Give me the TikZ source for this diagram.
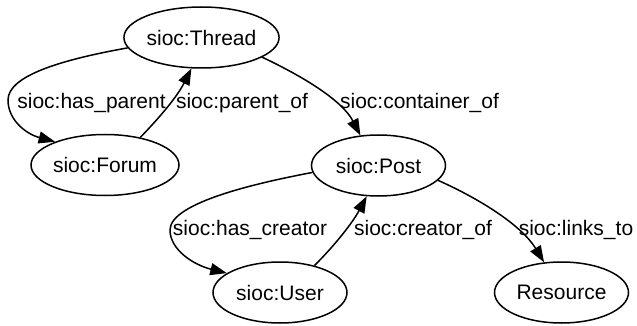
\documentclass[tikz,border=0pt]{standalone}
\usepackage{fontspec}
\setmainfont{Liberation Sans}
\usetikzlibrary{shapes.geometric,arrows.meta}

\tikzset{
  cls/.style={ellipse, draw, line width=1.5pt, inner sep=0pt,
              minimum height=61pt, font=\fontsize{21}{24}\selectfont},
  rel/.style={line width=1.5pt, -{Triangle[length=16.5pt,width=12pt]}},
  lbl/.style={anchor=base, inner sep=0pt, font=\fontsize{21}{24}\selectfont}
}

\begin{document}
\begin{tikzpicture}[x=1pt,y=-1pt]
  \useasboundingbox (0,0) rectangle (637,326);

  % classes
  \node[cls, minimum width=154pt] (thread)   at (201.5,37.5)  {sioc:Thread};
  \node[cls, minimum width=148pt] (forum)    at (105,165)     {sioc:Forum};
  \node[cls, minimum width=134pt] (post)     at (378.5,165.5) {sioc:Post};
  \node[cls, minimum width=134pt] (user)     at (280,292.5)   {sioc:User};
  \node[cls, minimum width=134pt] (resource) at (561.5,292.5) {Resource};

  % properties
  \draw[rel] (thread.188) .. controls (60,60) and (8,76) .. (8,100)
                          .. controls (8,120) and (26,134) .. (forum.155);
  \draw[rel] (forum.38) .. controls (160,117) and (177,97) .. (thread.252);
  \draw[rel] (thread.342) .. controls (302,76) and (342,100) .. (post.121);
  \draw[rel] (post.186) .. controls (262,182) and (170,202) .. (170,230)
                        .. controls (170,250) and (194,265) .. (user.160);
  \draw[rel] (user.38) .. controls (336,244) and (353,222) .. (post.249);
  \draw[rel] (post.346) .. controls (482,200) and (522,226) .. (resource.120);

  % property labels
  \node[lbl] (l1) at (91.5,109)  {sioc:has\_parent};
  \node[lbl] (l2) at (242,109)   {sioc:parent\_of};
  \node[lbl] (l3) at (419.5,109) {sioc:container\_of};
  \node[lbl] (l4) at (250,235)   {sioc:has\_creator};
  \node[lbl] (l5) at (423,235)   {sioc:creator\_of};
  \node[lbl] (l6) at (576,235)   {sioc:links\_to};
\end{tikzpicture}
\end{document}
